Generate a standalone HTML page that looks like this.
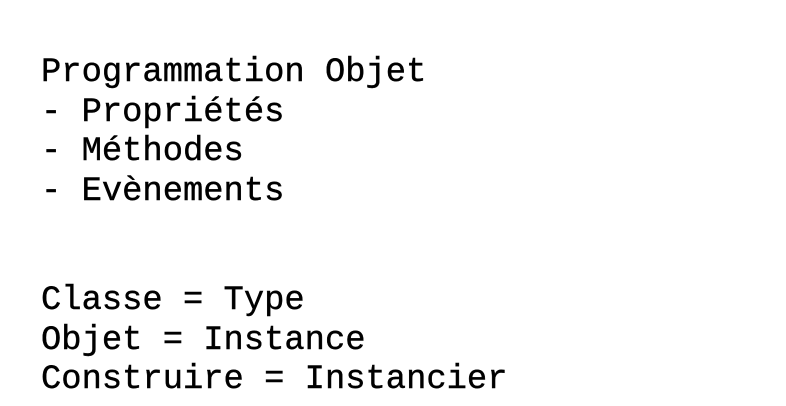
<!DOCTYPE html>
<html><head><meta charset="utf-8"><style>
html,body{margin:0;padding:0;background:#fff;width:786px;height:406px;overflow:hidden;}
.t{position:absolute;left:41px;font-family:"Liberation Mono",monospace;font-size:33.8px;line-height:39.5px;color:#000;white-space:pre;-webkit-text-stroke:0.4px #000;}
</style></head><body>
<div class="t" style="top:54px">Programmation Objet
- Propriétés
- Méthodes
- Evènements</div>
<div class="t" style="top:282px">Classe = Type
Objet = Instance
Construire = Instancier</div>
</body></html>
